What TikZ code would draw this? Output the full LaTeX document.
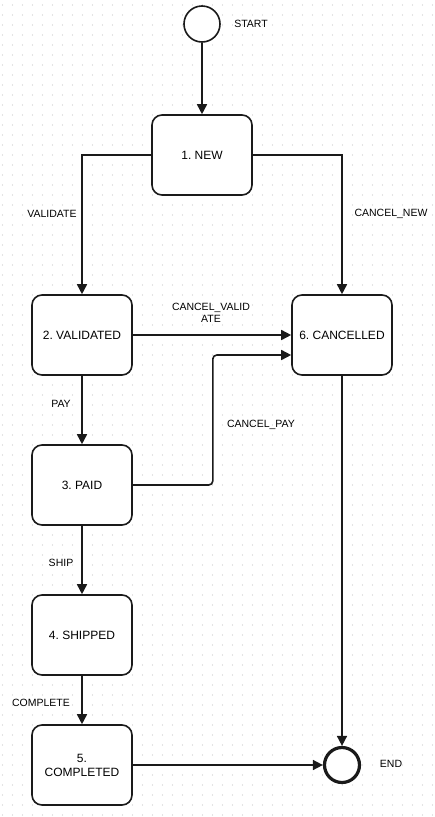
\documentclass[tikz,border=0pt]{standalone}
\usepackage{fontspec}
\setmainfont{Liberation Sans}
\usepackage{tikz}
\usetikzlibrary{arrows.meta}
\definecolor{griddot}{RGB}{200, 200, 200}
\definecolor{lineink}{RGB}{26, 26, 26}
\frenchspacing

\begin{document}
\begin{tikzpicture}[x=1pt, y=-1pt,
		statebox/.style={draw=lineink, line width=1.6pt, rounded corners=10pt,
			minimum width=100pt, minimum height=80pt, fill=white,
			align=center, font=\fontsize{12}{14}\selectfont},
		startdot/.style={draw=lineink, line width=1.6pt, circle, minimum size=36pt, fill=white},
		enddot/.style={draw=lineink, line width=3.2pt, circle, minimum size=35pt, fill=white},
		flow/.style={draw=lineink, line width=1.6pt, -{Triangle[length=10pt, width=10pt]}},
		edgelabel/.style={font=\fontsize{10.5}{12}\selectfont, align=center}]
	\useasboundingbox (0,0) rectangle (435,817);

	% --- Dotted background ---
	\foreach \gx in {0,...,43} {
		\foreach \gy in {0,...,81} {
			\fill[griddot] (2.5+10*\gx, 5+10*\gy) circle (0.6);
		}
	}

	% --- States ---
	\node[startdot] (start) at (202, 24) {};
	\node[statebox] (new) at (202, 155) {1. NEW};
	\node[statebox] (validated) at (82, 335) {2. VALIDATED};
	\node[statebox] (cancelled) at (342, 335) {6. CANCELLED};
	\node[statebox] (paid) at (82, 485) {3. PAID};
	\node[statebox] (shipped) at (82, 635) {4. SHIPPED};
	\node[statebox] (completed) at (82, 765) {5.\\COMPLETED};
	\node[enddot] (end) at (342, 765) {};

	% Start/end labels
	\node[edgelabel] (startlabel) at (251, 24) {START};
	\node[edgelabel] (endlabel) at (391, 764) {END};

	% --- Transitions ---
	\draw[flow] (start) -- (new);
	\draw[flow] (new.west) -| (validated.north);
	\draw[flow] (new.east) -| (cancelled.north);
	\draw[flow] (validated) -- (cancelled);
	\draw[flow, rounded corners=4pt] (paid.east) -- ++(80,0) |- ([yshift=-20pt]cancelled.west);
	\draw[flow] (validated) -- (paid);
	\draw[flow] (paid) -- (shipped);
	\draw[flow] (shipped) -- (completed);
	\draw[flow] (completed) -- (end);
	\draw[flow] (cancelled) -- (end);

	% Transition labels
	\node[edgelabel] (lvalidate) at (52, 214) {VALIDATE};
	\node[edgelabel] (lcancelnew) at (391, 214) {CANCEL\_NEW};
	\node[edgelabel, inner sep=0pt] (lcancelval) at (211, 313) {CANCEL\_VALID\\ATE};
	\node[edgelabel] (lcancelpay) at (261, 425) {CANCEL\_PAY};
	\node[edgelabel] (lpay) at (61, 404) {PAY};
	\node[edgelabel] (lship) at (61, 563) {SHIP};
	\node[edgelabel] (lcomplete) at (41, 703) {COMPLETE};
\end{tikzpicture}
\end{document}
